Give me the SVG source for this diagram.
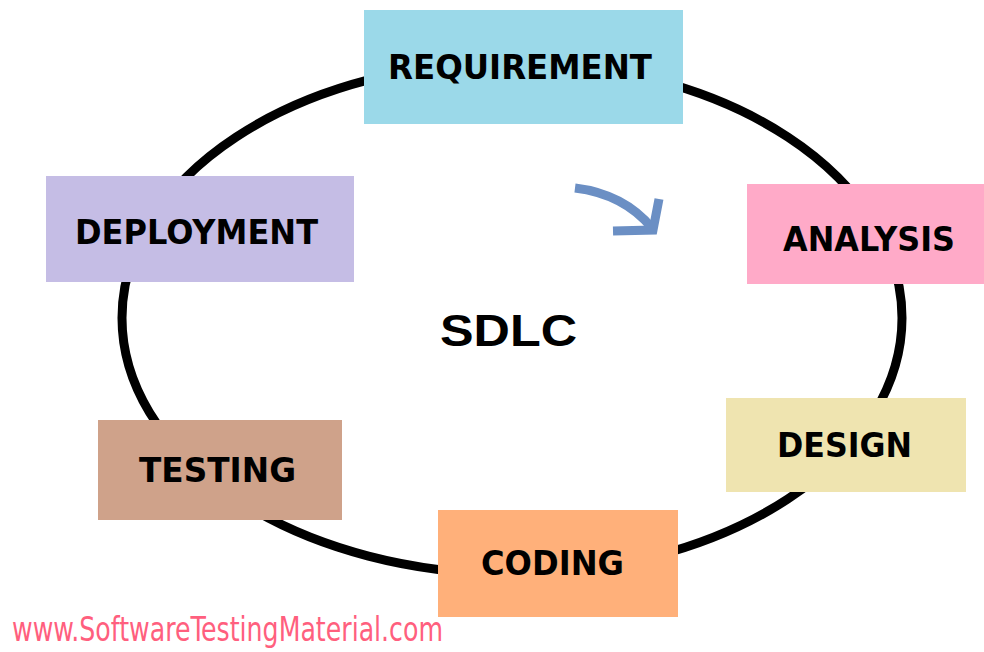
<svg xmlns="http://www.w3.org/2000/svg" width="984" height="652" viewBox="0 0 984 652">
<style>
.lbl{font-family:"DejaVu Sans","Liberation Sans",sans-serif;font-weight:bold;font-size:33px;fill:#000;}
.ring{fill:none;stroke:#000;stroke-width:9;}
.flow{fill:none;stroke:#6b8fc4;stroke-width:9;stroke-linecap:butt;stroke-linejoin:miter;}
</style>
<rect width="984" height="652" fill="#fff"/>
<g id="connectors">
<ellipse class="ring" cx="512" cy="318" rx="390" ry="256"/>
<path class="flow" d="M575,188 Q624,194 652,228"/>
<path class="flow" d="M659,199 L653,230 L613,231"/>
</g>
<g id="requirement"><rect x="364" y="10" width="319" height="114" fill="#9bd9e9"/><text class="lbl" x="388" y="79" textLength="264" lengthAdjust="spacingAndGlyphs">REQUIREMENT</text></g>
<g id="analysis"><rect x="747" y="184" width="237" height="100" fill="#ffaac8"/><text class="lbl" x="783" y="251" textLength="172" lengthAdjust="spacingAndGlyphs">ANALYSIS</text></g>
<g id="design"><rect x="726" y="398" width="240" height="94" fill="#efe4b0"/><text class="lbl" x="777" y="457" textLength="135" lengthAdjust="spacingAndGlyphs">DESIGN</text></g>
<g id="coding"><rect x="438" y="510" width="240" height="107" fill="#ffb07a"/><text class="lbl" x="481" y="575" textLength="143" lengthAdjust="spacingAndGlyphs">CODING</text></g>
<g id="testing"><rect x="98" y="420" width="244" height="100" fill="#cfa28a"/><text class="lbl" x="139" y="482" textLength="157" lengthAdjust="spacingAndGlyphs">TESTING</text></g>
<g id="deployment"><rect x="46" y="176" width="308" height="106" fill="#c5bde5"/><text class="lbl" x="75" y="244" textLength="243" lengthAdjust="spacingAndGlyphs">DEPLOYMENT</text></g>
<g id="sdlc"><text x="440" y="346" font-family="'Liberation Sans',Arial,sans-serif" font-weight="bold" font-size="44" textLength="137" lengthAdjust="spacingAndGlyphs" fill="#000">SDLC</text></g>
<text x="12" y="641" font-family="'Liberation Sans Narrow','DejaVu Sans Condensed','Liberation Sans',sans-serif" font-size="34" fill="#ff5f7e" textLength="431" lengthAdjust="spacingAndGlyphs">www.SoftwareTestingMaterial.com</text>
</svg>
